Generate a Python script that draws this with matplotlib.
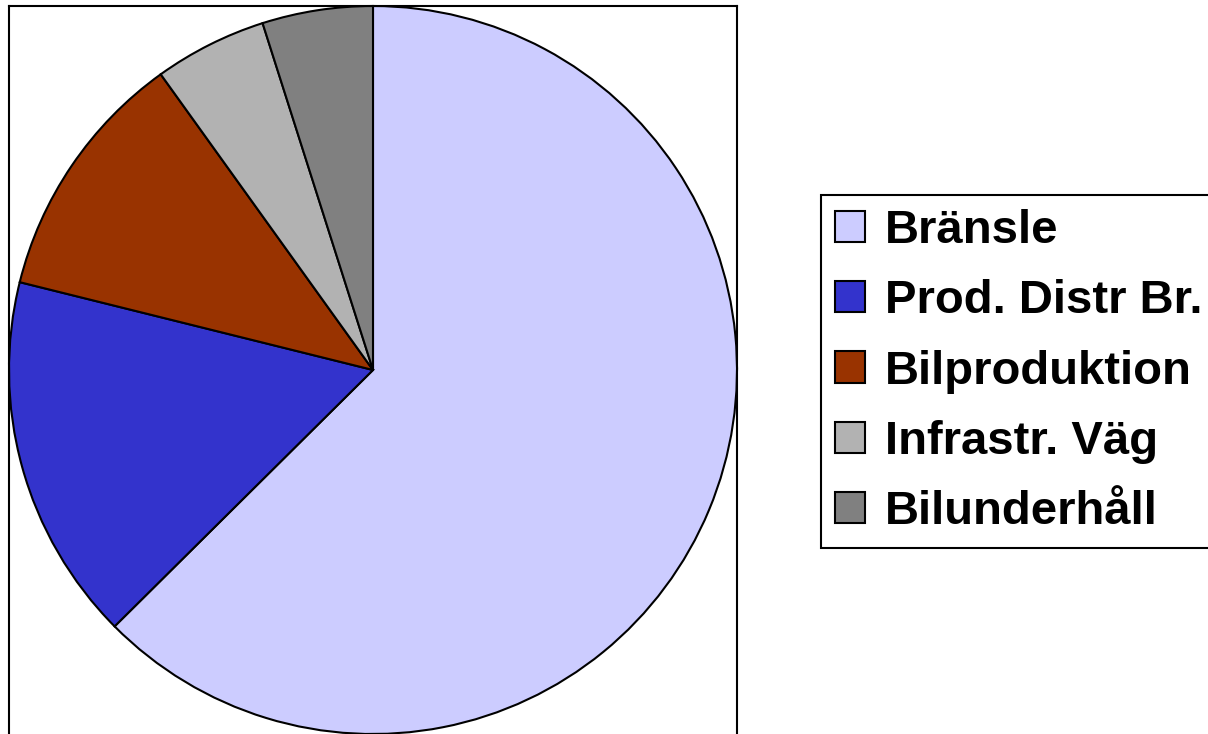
import matplotlib
matplotlib.use("Agg")
import matplotlib.pyplot as plt

# slice shares (percent)
labels = ["Bränsle", "Prod. Distr Br.", "Bilproduktion", "Infrastr. Väg", "Bilunderhåll"]
values = [62.5, 16.3, 11.2, 5.0, 4.9]
colors = ["#CCCCFF", "#3333CC", "#993300", "#B2B2B2", "#808080"]

plt.rcParams['font.family'] = ['Liberation Sans', 'DejaVu Sans']

W, H = 1208, 734
fig = plt.figure(figsize=(W / 100, H / 100), dpi=100)

# pie axes: centre (373, 370) px, radius 364 px
cx, cy, r = 373, 370, 364
ax = fig.add_axes([(cx - r) / W, (H - cy - r) / H, 2 * r / W, 2 * r / H])
wedges, _ = ax.pie(values, colors=colors, startangle=90, counterclock=False,
                   radius=1.0, wedgeprops=dict(edgecolor="black", linewidth=1.5))
ax.set_xlim(-1.0, 1.0)
ax.set_ylim(-1.0, 1.0)
ax.set_aspect("equal")
ax.set_frame_on(True)
ax.set_xticks([])
ax.set_yticks([])
for side in ["top", "left", "right"]:
    ax.spines[side].set_visible(True)
    ax.spines[side].set_linewidth(1.5)
ax.spines["bottom"].set_visible(False)

leg = fig.legend(wedges, labels, loc="upper left",
                 bbox_to_anchor=(821 / W, 1 - 195 / H),
                 prop=dict(family="Liberation Sans", weight="bold", size=34),
                 fancybox=False, shadow=False, framealpha=1,
                 edgecolor="black", handlelength=0.64, handleheight=0.64,
                 handletextpad=0.42, labelspacing=0.555, borderpad=0.3,
                 borderaxespad=0)
leg.get_frame().set_linewidth(1.5)
for h in leg.legend_handles:
    h.set_linewidth(1.5)

fig.savefig("out.png", dpi=100)
